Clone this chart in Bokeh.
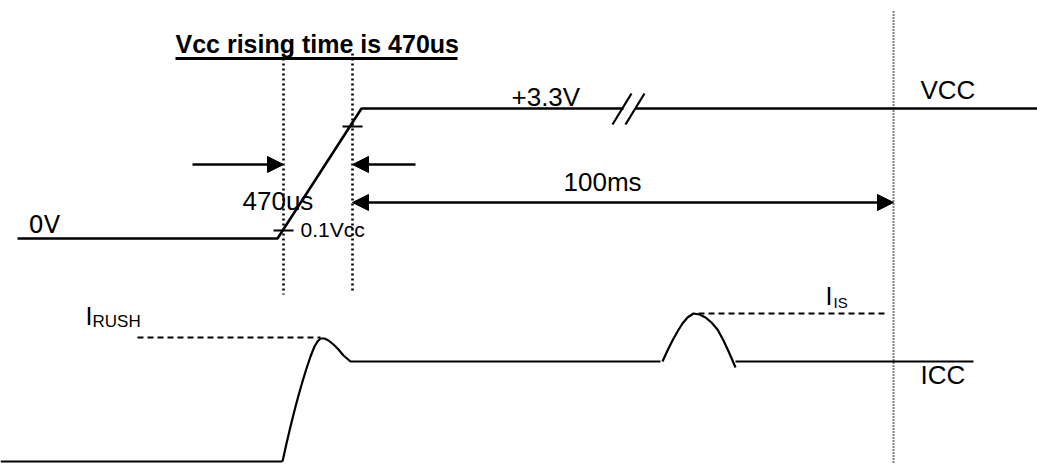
from bokeh.plotting import figure
from bokeh.models import Range1d, Label, Arrow, NormalHead
from bokeh.embed import file_html
from bokeh.resources import INLINE

# ---- diagram data (page pixel coordinates, y grows downward) ----
# VCC waveform: 0V level, 470us ramp, +3.3V level (split by a break mark)
vcc_x = [17, 277, 361, 623]
vcc_y = [238, 238, 108, 108]
vcc_tail_x = [635, 1037]
vcc_tail_y = [108, 108]
break_x = [[612, 631], [625, 644]]
break_y = [[124, 93], [124, 93]]
tick_x = [[273, 293], [342, 362]]
tick_y = [[230, 230], [126, 126]]

# ICC waveform: low level, inrush bump, idle level, second bump, idle level
icc_low_x = [0, 282]
icc_low_y = [461, 461]
icc_rush_x = [282, 286, 290, 294, 298, 302, 306, 310, 314, 317, 320, 324, 328, 333, 338, 343, 350, 660]
icc_rush_y = [461, 443, 426, 410, 395, 381, 368, 356, 346, 341, 338, 338, 340, 344, 349, 355, 361, 361]
icc_bump_x = [662, 667, 672, 677, 682, 687, 693, 699, 705, 711, 717, 723, 729, 735]
icc_bump_y = [361, 350, 340, 331, 323, 317, 313, 314, 317, 322, 329, 340, 353, 367]
icc_tail_x = [735, 973]
icc_tail_y = [361, 361]

# dashed reference levels
irush_x = [137, 320]
irush_y = [337, 337]
iis_x = [698, 885]
iis_y = [313, 313]

# dotted time markers
mark_x = [[283, 283], [352, 352]]
mark_y = [[53, 294], [53, 292]]
end_mark_x = [893, 893]
end_mark_y = [11, 464]

# arrows (x_start, y_start, x_end, y_end)
arrow_in_left = (192, 164, 283, 164)
arrow_in_right = (415, 164, 352, 164)
arrow_100ms = (352, 202, 893, 202)

# title + underline
title_text = "Vcc rising time is 470us"
title_pos = (175, 53)
underline_x = [175, 457]
underline_y = [58, 58]

# labels: text, x, y(baseline), size(px), font
labels = [
    ("+3.3V", 511, 107, 26, "Liberation Sans"),
    ("VCC", 920, 100, 26, "Liberation Sans"),
    ("100ms", 563, 192, 26, "Liberation Sans"),
    ("470us", 242, 211, 26, "Liberation Sans"),
    ("0V", 28, 234, 24, "DejaVu Sans"),
    ("0.1Vcc", 300, 237, 21, "Liberation Sans"),
    ("I", 85, 325, 25, "Liberation Sans"),
    ("RUSH", 92, 328, 17, "Liberation Sans"),
    ("I", 825, 305, 25, "Liberation Sans"),
    ("IS", 833, 308, 15, "Liberation Sans"),
    ("ICC", 920, 385, 26, "Liberation Sans"),
]

W, H = 1037, 464
p = figure(width=W, height=H, x_range=Range1d(0, W), y_range=Range1d(H, 0),
           x_axis_type=None, y_axis_type=None, toolbar_location=None,
           output_backend="svg", min_border=0)
p.grid.visible = False
p.outline_line_color = None
p.background_fill_color = "white"
p.border_fill_color = "white"

# VCC
p.line(vcc_x, vcc_y, line_color="black", line_width=2.6)
p.line(vcc_tail_x, vcc_tail_y, line_color="black", line_width=2.6)
p.multi_line(break_x, break_y, line_color="black", line_width=2.2)
p.multi_line(tick_x, tick_y, line_color="black", line_width=2.2)

# ICC
p.line(icc_low_x, icc_low_y, line_color="black", line_width=2.2)
p.line(icc_rush_x, icc_rush_y, line_color="black", line_width=2.2, line_join="round")
p.line(icc_bump_x, icc_bump_y, line_color="black", line_width=2.2, line_join="round")
p.line(icc_tail_x, icc_tail_y, line_color="black", line_width=2.2)

# dashed levels
p.line(irush_x, irush_y, line_color="black", line_width=2, line_dash="6 4")
p.line(iis_x, iis_y, line_color="black", line_width=2, line_dash="6 4")

# dotted markers
p.multi_line(mark_x, mark_y, line_color="black", line_width=2.6, line_dash="2 3")
p.line(end_mark_x, end_mark_y, line_color="black", line_width=2, line_dash="1 2")

# arrows
def head():
    return NormalHead(size=16, fill_color="black", line_color="black", line_width=1)

for a, two in ((arrow_in_left, False), (arrow_in_right, False), (arrow_100ms, True)):
    p.add_layout(Arrow(x_start=a[0], y_start=a[1], x_end=a[2], y_end=a[3],
                       end=head(), start=head() if two else None,
                       line_color="black", line_width=2.6))

# baseline correction for the label renderer (text drawn ~0.4em low)
def base_fix(size):
    return 0.4 * size

# title
p.add_layout(Label(x=title_pos[0], y=title_pos[1] - base_fix(25), text=title_text,
                   text_font="Liberation Sans", text_font_size="25px",
                   text_font_style="bold", text_baseline="alphabetic", text_color="black"))
p.line(underline_x, underline_y, line_color="black", line_width=3)

for t, x, y, s, f in labels:
    p.add_layout(Label(x=x, y=y - base_fix(s), text=t, text_font=f, text_font_size=f"{s}px",
                       text_baseline="alphabetic", text_align="left", text_color="black"))

open("out.html", "w").write(file_html(p, INLINE))
